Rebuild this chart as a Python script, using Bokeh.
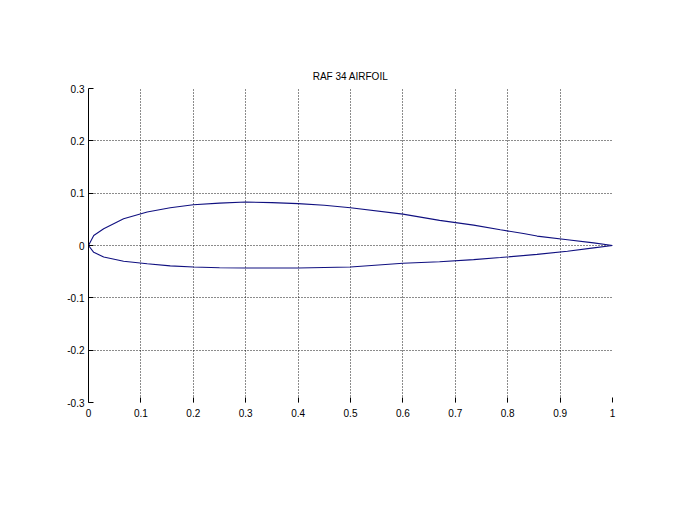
from bokeh.plotting import figure
from bokeh.models import Range1d, FixedTicker, LinearAxis
from bokeh.embed import file_html
from bokeh.resources import INLINE

title_text = "RAF 34 AIRFOIL"

upper_x = [0.0, 0.01, 0.029, 0.067, 0.112, 0.156, 0.2, 0.25, 0.3, 0.35, 0.4, 0.45,
           0.5, 0.6, 0.67, 0.735, 0.786, 0.83, 0.856, 0.914, 0.964, 1.0]
upper_y = [0.0, 0.019, 0.032, 0.051, 0.064, 0.072, 0.078, 0.081, 0.083, 0.082, 0.080, 0.077,
           0.072, 0.060, 0.048, 0.039, 0.030, 0.023, 0.018, 0.011, 0.005, 0.0]

lower_x = [0.0, 0.01, 0.029, 0.067, 0.112, 0.156, 0.2, 0.25, 0.3, 0.4, 0.5, 0.6,
           0.67, 0.735, 0.786, 0.856, 0.914, 0.964, 1.0]
lower_y = [0.0, -0.013, -0.022, -0.030, -0.035, -0.039, -0.041, -0.0425, -0.043, -0.043, -0.041, -0.034,
           -0.031, -0.027, -0.023, -0.017, -0.011, -0.0045, 0.0]

x_ticks = [0.0, 0.1, 0.2, 0.3, 0.4, 0.5, 0.6, 0.7, 0.8, 0.9, 1.0]
x_tick_labels = ["0", "0.1", "0.2", "0.3", "0.4", "0.5", "0.6", "0.7", "0.8", "0.9", "1"]
y_ticks = [-0.3, -0.2, -0.1, 0.0, 0.1, 0.2, 0.3]
y_tick_labels = ["-0.3", "-0.2", "-0.1", "0", "0.1", "0.2", "0.3"]

FONT = "Liberation Sans"

p = figure(width=667, height=498, output_backend="svg", toolbar_location=None,
           x_range=Range1d(0, 1), y_range=Range1d(-0.3, 0.3),
           min_border_left=88, min_border_right=55, min_border_top=88, min_border_bottom=96,
           x_axis_location=None, y_axis_location=None)
p.outline_line_color = None
p.background_fill_color = "white"
p.border_fill_color = "white"

p.title.text = title_text
p.title.align = "center"
p.title.text_font = FONT
p.title.text_font_size = "10px"
p.title.text_font_style = "normal"
p.title.text_color = "black"
p.title.standoff = 13


def make_axis(ticks, labels, show_line, standoff):
    ax = LinearAxis(ticker=FixedTicker(ticks=ticks))
    ax.major_label_overrides = {t: l for t, l in zip(ticks, labels)}
    ax.major_tick_in = 5
    ax.major_tick_out = 0
    ax.minor_tick_line_color = None
    ax.major_tick_line_color = "black"
    ax.axis_line_color = "black" if show_line else None
    ax.major_label_text_font = FONT
    ax.major_label_text_font_size = "10px"
    ax.major_label_text_color = "black"
    ax.major_label_standoff = standoff
    return ax


p.add_layout(make_axis(y_ticks, y_tick_labels, True, 4), "left")
p.add_layout(make_axis(x_ticks, x_tick_labels, False, 6), "below")

p.xgrid.ticker = FixedTicker(ticks=x_ticks)
p.ygrid.ticker = FixedTicker(ticks=y_ticks)
for g in (p.xgrid, p.ygrid):
    g.grid_line_color = "black"
    g.grid_line_dash = "1 2"
    g.grid_line_width = 1
    g.grid_line_alpha = 0.9

p.line(upper_x, upper_y, line_color="#101080", line_width=1.1)
p.line(lower_x, lower_y, line_color="#101080", line_width=1.1)

open("out.html", "w").write(file_html(p, INLINE))
